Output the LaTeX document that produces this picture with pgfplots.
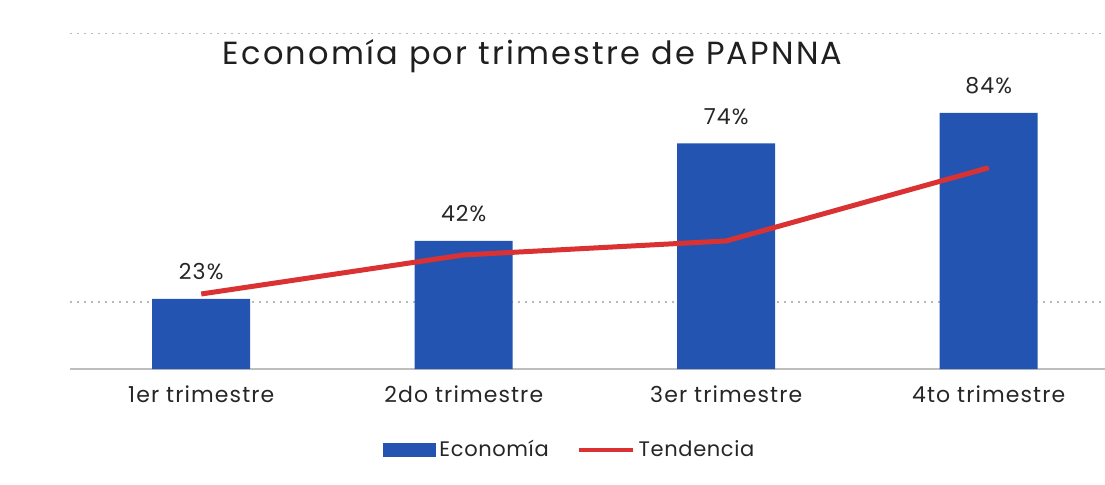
\documentclass[border=0pt]{standalone}
\usepackage{pgfplots}
\pgfplotsset{compat=1.18}
\usepackage{fontspec}
\setmainfont{Poppins}[LetterSpace=3]
\newfontfamily\titlefont{Poppins}[LetterSpace=7]
\newfontfamily\tickfont{Poppins}[LetterSpace=5]
\definecolor{barblue}{RGB}{36,84,178}
\definecolor{trendred}{RGB}{218,50,50}
\definecolor{gridgray}{RGB}{190,190,190}
\definecolor{dotgray}{RGB}{185,185,185}
\begin{document}
\begin{tikzpicture}
\path[use as bounding box] (0,0) rectangle (552.5pt,242pt);
\begin{axis}[
  at={(35pt,57.5pt)}, anchor=south west,
  scale only axis,
  width=517.5pt, height=184.5pt,
  xmin=-0.5, xmax=3.443,
  ymin=0, ymax=121,
  axis x line*=bottom,
  axis y line*=left,
  x axis line style={draw=gridgray, line width=0.6pt},
  y axis line style={draw=none},
  xtick={0,1,2,3},
  xticklabels={1er trimestre,2do trimestre,3er trimestre,4to trimestre},
  major tick length=0pt,
  xticklabel style={font=\tickfont\fontsize{11}{13}\selectfont, text=black!85, yshift=-5pt},
  ytick={22,110},
  yticklabels={},
  ymajorgrids,
  grid style={draw=dotgray, dash pattern=on 1pt off 2.5pt, line width=0.6pt},
  clip=false,
  title={Economía por trimestre de PAPNNA},
  title style={at={(rel axis cs:0.447,0.815)}, anchor=center, font=\titlefont\fontsize{16}{19}\selectfont, text=black!88},
  legend style={at={(rel axis cs:0.484,-0.2195)}, anchor=center, draw=none, fill=none,
    legend columns=2, font=\fontsize{10.5}{12}\selectfont, text=black!85,
    /tikz/every even column/.append style={column sep=12pt}},
]
\addplot[ybar, bar width=49pt, fill=barblue, draw=none,
  nodes near coords={\pgfmathprintnumber[assume math mode=true]{\pgfplotspointmeta}\%},
  every node near coord/.append style={font=\tickfont\fontsize{11}{13}\selectfont, text=black!85, yshift=6pt},
  legend image code/.code={\fill[barblue] (0pt,-3.5pt) rectangle (26pt,3.5pt);}]
  coordinates {(0,23) (1,42) (2,74) (3,84)};
\addlegendentry{Economía}
\addplot[trendred, line width=2.5pt, line join=round,
  legend image code/.code={\draw[trendred, line width=2pt] (0pt,0pt) -- (27pt,0pt);}]
  coordinates {(0,24.6) (1,37.4) (2,42) (3,66)};
\addlegendentry{Tendencia}
\end{axis}
\end{tikzpicture}
\end{document}
